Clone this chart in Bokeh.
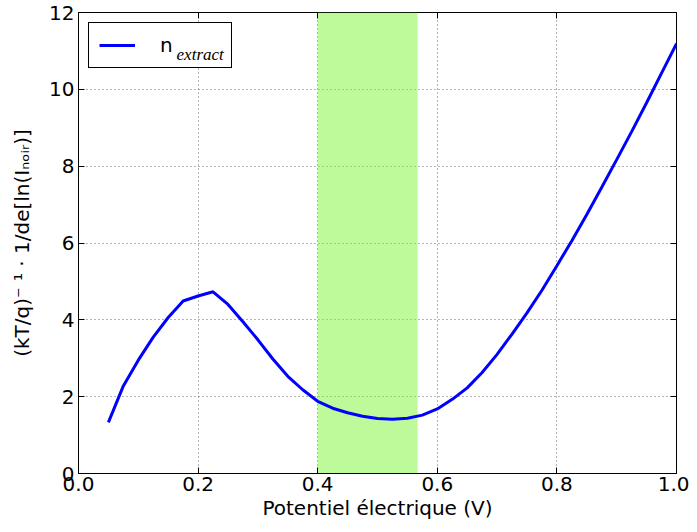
from bokeh.plotting import figure
from bokeh.models import (Range1d, FixedTicker, PrintfTickFormatter, BoxAnnotation,
                          Legend, LegendItem, Label, LinearAxis)
from bokeh.embed import file_html
from bokeh.resources import INLINE

# ---- data ----
voltage = [0.05, 0.075, 0.1, 0.125, 0.15, 0.175, 0.2, 0.225, 0.25, 0.275, 0.3, 0.325,
           0.35, 0.375, 0.4, 0.425, 0.45, 0.475, 0.5, 0.525, 0.55, 0.575, 0.6, 0.625,
           0.65, 0.675, 0.7, 0.725, 0.75, 0.775, 0.8, 0.825, 0.85, 0.875, 0.9, 0.925,
           0.95, 0.975, 1.0]
n_extract = [1.33, 2.28, 2.95, 3.55, 4.06, 4.49, 4.62, 4.73, 4.40, 3.95, 3.48, 2.98,
             2.53, 2.18, 1.88, 1.70, 1.58, 1.49, 1.43, 1.41, 1.44, 1.52, 1.68, 1.93,
             2.23, 2.63, 3.10, 3.63, 4.18, 4.77, 5.41, 6.06, 6.74, 7.45, 8.17, 8.90,
             9.65, 10.42, 11.19]
band_start, band_end = 0.40, 0.567
x_ticks = [0.0, 0.2, 0.4, 0.6, 0.8, 1.0]
y_ticks = [0, 2, 4, 6, 8, 10, 12]

FONT = "DejaVu Sans"

p = figure(width=689, height=524, output_backend="svg", toolbar_location=None,
           x_range=Range1d(0, 1), y_range=Range1d(0, 12),
           min_border_left=78, min_border_right=13, min_border_top=12, min_border_bottom=51)
p.background_fill_color = "white"
p.border_fill_color = "white"
p.outline_line_color = "black"
p.outline_line_width = 1
p.outline_line_alpha = 1

# green band
band = BoxAnnotation(left=band_start, right=band_end, fill_color="#7af536", fill_alpha=0.5,
                     line_color=None, level="underlay")
p.add_layout(band)

r = p.line(voltage, n_extract, line_color="#0000ff", line_width=3)

# axes
for ax in (p.xaxis[0], p.yaxis[0]):
    ax.major_tick_in = 6
    ax.major_tick_out = 0
    ax.minor_tick_in = 0
    ax.minor_tick_out = 0
    ax.axis_line_color = "black"
    ax.major_tick_line_color = "black"
    ax.major_label_text_font = FONT
    ax.major_label_text_font_size = "20px"
    ax.major_label_text_color = "black"
    ax.axis_label_text_font = FONT
    ax.axis_label_text_font_size = "20px"
    ax.axis_label_text_font_style = "normal"
    ax.axis_label_text_color = "black"

p.xaxis.ticker = FixedTicker(ticks=x_ticks)
p.xaxis.formatter = PrintfTickFormatter(format="%.1f")
p.yaxis.ticker = FixedTicker(ticks=y_ticks)
p.xaxis.major_label_standoff = 3
p.xaxis.axis_label_standoff = 2
p.yaxis.major_label_standoff = 4
p.yaxis.axis_label_standoff = 12
p.xaxis.axis_label = "Potentiel électrique (V)"
p.yaxis.axis_label = "(kT/q)⁻ ¹ · 1/de[ln(Iₙₒᵢᵣ)]"

# mirrored ticks on top and right
for side, tk in (("above", x_ticks), ("right", y_ticks)):
    a = LinearAxis(ticker=FixedTicker(ticks=tk), major_tick_in=6, major_tick_out=0,
                   minor_tick_in=0, minor_tick_out=0, major_label_text_font_size="0px",
                   major_label_text_alpha=0, axis_line_color=None,
                   major_tick_line_color="black", major_label_standoff=0)
    p.add_layout(a, side)

# grid
for g in (p.xgrid[0], p.ygrid[0]):
    g.grid_line_color = "black"
    g.grid_line_alpha = 0.6
    g.grid_line_dash = "1 3"
    g.grid_line_width = 1
p.xgrid.ticker = FixedTicker(ticks=x_ticks)
p.ygrid.ticker = FixedTicker(ticks=y_ticks)

# white backing for the legend (legend itself is transparent so the subscript shows)
legend_bg = BoxAnnotation(left=0.018, right=0.255, top=11.72, bottom=10.6,
                          fill_color="white", fill_alpha=1, line_color=None)
p.add_layout(legend_bg)

sub = Label(x=0.164, y=10.9, text="extract",
            text_font="Liberation Serif", text_font_style="italic", text_font_size="17px",
            text_color="black", text_baseline="alphabetic")
p.add_layout(sub)

legend = Legend(items=[LegendItem(label="n", renderers=[r])], location="top_left",
                margin=10, padding=10, glyph_width=36, label_standoff=25, label_width=61,
                border_line_color="black", border_line_width=1, border_line_alpha=1,
                background_fill_alpha=0,
                label_text_font=FONT, label_text_font_size="20px", label_text_color="black")
p.add_layout(legend)

open("out.html", "w").write(file_html(p, INLINE))
